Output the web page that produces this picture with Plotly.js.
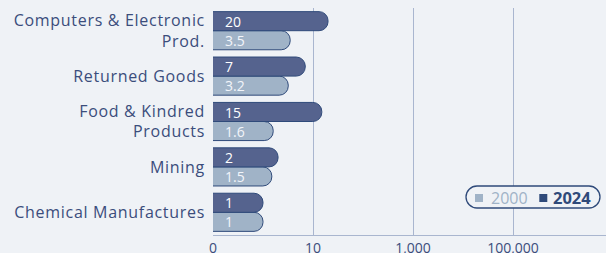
<!DOCTYPE html>
<html><head><meta charset="utf-8">
<script src="https://cdn.plot.ly/plotly-3.0.1.min.js"></script>
<style>html,body{margin:0;padding:0;background:#eff2f6;}#chart{width:606px;height:253px;}
.ytick text{letter-spacing:0.7px;}</style>
</head><body><div id="chart"></div>
<script>
// Data (top-to-bottom order as in the reference)
const categories = ["Computers & Electronic<br>Prod.", "Returned Goods", "Food & Kindred<br>Products", "Mining", "Chemical Manufactures"];
const values2000 = [3.5, 3.2, 1.6, 1.5, 1];
const values2024 = [20, 7, 15, 2, 1];
const seriesNames = ["2000", "2024"];
const xTickVals = [0.1, 10, 1000, 100000];
const xTickText = ["0", "10", "1,000", "100,000"];

const cats = categories.slice().reverse();
const v2000 = values2000.slice().reverse();
const v2024 = values2024.slice().reverse();

const font = "'Open Sans', sans-serif";
const textCol = "#3b4d7c";
const bg = "#eff2f6";
const c2000 = '#a0b3c7', c2024 = '#55638e', cEdge = '#2f4a7a';
const xMinLog = -1;

const W = 606, H = 253, ML = 213, MR = 0, MT = 8, MB = 18;
const PW = W - ML - MR, PH = H - MT - MB;
const px = v => (v - ML) / PW;          // page pixel -> paper x
const py = v => (H - MB - v) / PH;      // page pixel -> paper y

const traces = [
  {type:'bar', orientation:'h', y:cats, x:v2000, name:seriesNames[0], showlegend:false,
   marker:{color:c2000, line:{color:cEdge, width:1}, cornerradius:9}, hoverinfo:'none'},
  {type:'bar', orientation:'h', y:cats, x:v2024, name:seriesNames[1], showlegend:false,
   marker:{color:c2024, line:{color:cEdge, width:1}, cornerradius:9}, hoverinfo:'none'}
];

// value labels inside bars
const annotations = [];
cats.forEach((c, i) => {
  annotations.push({x:xMinLog, y:c, xref:'x', yref:'y', text:String(v2024[i]), showarrow:false,
    xanchor:'left', yanchor:'middle', xshift:10, yshift:9.5, font:{size:14, color:'#ffffff', family:font}});
  annotations.push({x:xMinLog, y:c, xref:'x', yref:'y', text:String(v2000[i]), showarrow:false,
    xanchor:'left', yanchor:'middle', xshift:10, yshift:-9.5, font:{size:14, color:'#f2f5fa', family:font}});
});

// custom legend
annotations.push({xref:'paper', yref:'paper', x:px(488.5), y:py(197.8), xanchor:'left', yanchor:'middle', showarrow:false,
  text:seriesNames[0], font:{size:16, color:c2000, family:font}});
annotations.push({xref:'paper', yref:'paper', x:px(550.5), y:py(197.8), xanchor:'left', yanchor:'middle', showarrow:false,
  text:'<b>'+seriesNames[1]+'</b>', font:{size:16.5, color:cEdge, family:font}});

const r = 11, hw = 67, k = 0.5523*r, a = hw - r;
const path = `M ${-a} ${-r} L ${a} ${-r} C ${a+k} ${-r} ${hw} ${-k} ${hw} 0 C ${hw} ${k} ${a+k} ${r} ${a} ${r} L ${-a} ${r} C ${-a-k} ${r} ${-hw} ${k} ${-hw} 0 C ${-hw} ${-k} ${-a-k} ${-r} ${-a} ${-r} Z`;

const sq = (cx, cy, col) => ({type:'rect', xref:'paper', yref:'paper', xsizemode:'pixel', ysizemode:'pixel',
  xanchor:px(cx), yanchor:py(cy), x0:-4, x1:4, y0:-4, y1:4, fillcolor:col, line:{width:0}, layer:'above'});

const layout = {
  width:W, height:H, autosize:false,
  margin:{l:ML, r:MR, t:MT, b:MB, pad:0, autoexpand:false},
  paper_bgcolor:bg, plot_bgcolor:bg,
  font:{family:font, color:textCol},
  barmode:'group', bargap:0.16, bargroupgap:0,
  showlegend:false,
  xaxis:{type:'log', range:[xMinLog, 6.86], tickvals:xTickVals, ticktext:xTickText, automargin:false,
         showgrid:true, gridcolor:'#a9b6cf', gridwidth:1,
         showline:true, linecolor:'#a9b6cf', linewidth:1, zeroline:false,
         ticks:'', tickfont:{size:14, color:textCol, family:font}, fixedrange:true},
  yaxis:{type:'category', showgrid:false, zeroline:false, showline:false, ticks:'', automargin:false,
         ticklabelstandoff:7, tickfont:{size:16, color:textCol, family:font}, fixedrange:true},
  annotations:annotations,
  shapes:[{type:'path', xref:'paper', yref:'paper', xsizemode:'pixel', ysizemode:'pixel',
           xanchor:px(533), yanchor:py(197), path:path, fillcolor:bg,
           line:{color:cEdge, width:1.3}, layer:'above'},
          sq(479, 198, c2000), sq(543.3, 198, cEdge)]
};
Plotly.newPlot('chart', traces, layout, {displayModeBar:false, staticPlot:true});
</script></body></html>
